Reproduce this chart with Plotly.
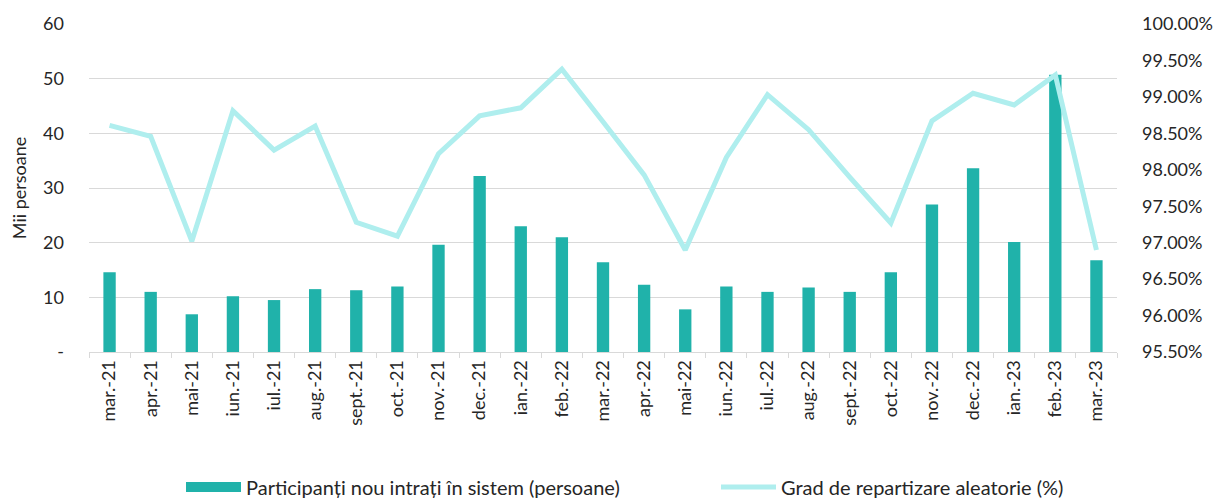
import plotly.graph_objects as go

months = ["mar.-21", "apr.-21", "mai-21", "iun.-21", "iul.-21", "aug.-21", "sept.-21", "oct.-21",
          "nov.-21", "dec.-21", "ian.-22", "feb.-22", "mar.-22", "apr.-22", "mai-22", "iun.-22",
          "iul.-22", "aug.-22", "sept.-22", "oct.-22", "nov.-22", "dec.-22", "ian.-23", "feb.-23", "mar.-23"]

participants = [14.6, 11.0, 6.9, 10.2, 9.5, 11.5, 11.3, 12.0, 19.6, 32.2, 23.0, 21.0, 16.4,
                12.3, 7.8, 12.0, 11.0, 11.8, 11.0, 14.6, 27.0, 33.6, 20.1, 50.7, 16.8]

grad = [98.61, 98.46, 97.02, 98.81, 98.27, 98.60, 97.28, 97.09, 98.22, 98.74, 98.85, 99.38, 98.66,
        97.93, 96.90, 98.17, 99.03, 98.55, 97.90, 97.27, 98.67, 99.05, 98.89, 99.30, 96.90]

left_ticks = [0, 10, 20, 30, 40, 50, 60]
left_ticktext = ["-", "10", "20", "30", "40", "50", "60"]
right_ticks = [95.5, 96.0, 96.5, 97.0, 97.5, 98.0, 98.5, 99.0, 99.5, 100.0]
right_ticktext = [f"{v:.2f}%" for v in right_ticks]

bar_name = "Participanți nou intrați în sistem (persoane)"
line_name = "Grad de repartizare aleatorie (%)"

FONT = "Lato"
TXT = "#262626"
BAR_COLOR = "#20B2AA"
LINE_COLOR = "#AFEEEE"

W, H = 1214, 493  # page body has an 8px margin

fig = go.Figure()
fig.add_trace(go.Bar(
    x=months, y=participants, name=bar_name, showlegend=False,
    marker=dict(color=BAR_COLOR, line=dict(width=0)), yaxis="y",
))
fig.add_trace(go.Scatter(
    x=months, y=grad, name=line_name, mode="lines", showlegend=False,
    line=dict(color=LINE_COLOR, width=5), yaxis="y2",
))
# legend entries (wide swatch for bars, line for the series)
fig.add_trace(go.Scatter(x=[None], y=[None], name=bar_name, mode="lines", legend="legend",
                         line=dict(color=BAR_COLOR, width=12), yaxis="y"))
fig.add_trace(go.Scatter(x=[None], y=[None], name=line_name, mode="lines", legend="legend2",
                         line=dict(color=LINE_COLOR, width=5), yaxis="y2"))

legend_common = dict(orientation="h", yref="container", y=14 / H, yanchor="middle",
                     xref="container", xanchor="left", itemwidth=55,
                     bgcolor="rgba(0,0,0,0)", font=dict(family=FONT, size=20, color=TXT))

fig.update_layout(
    width=W, height=H,
    margin=dict(l=81, r=105, t=16, b=149, autoexpand=False),
    paper_bgcolor="white", plot_bgcolor="white",
    font=dict(family=FONT, size=18, color=TXT),
    bargap=0.7,
    showlegend=True,
    legend=dict(x=173 / W, **legend_common),
    legend2=dict(x=708 / W, **legend_common),
    xaxis=dict(
        type="category", tickangle=-90, showgrid=False, automargin=False,
        showline=True, linecolor="#d9d9d9", linewidth=1,
        ticks="outside", tickson="boundaries", ticklen=5, tickcolor="#d9d9d9",
        tickfont=dict(family=FONT, size=18, color=TXT),
    ),
    yaxis=dict(
        range=[0, 60], tickvals=left_ticks, ticktext=left_ticktext, automargin=False,
        showgrid=True, gridcolor="#d9d9d9", gridwidth=1, zeroline=False,
        showline=False, ticks="", ticklabelstandoff=24,
        title=dict(text="Mii persoane", font=dict(family=FONT, size=18, color=TXT), standoff=12),
        tickfont=dict(family=FONT, size=18, color=TXT),
    ),
    yaxis2=dict(
        range=[95.5, 100.0], tickvals=right_ticks, ticktext=right_ticktext, automargin=False,
        overlaying="y", side="right", showgrid=False, zeroline=False, showline=False,
        ticks="", ticklabelstandoff=24,
        tickfont=dict(family=FONT, size=18, color=TXT),
    ),
)

fig.write_html("out.html")
